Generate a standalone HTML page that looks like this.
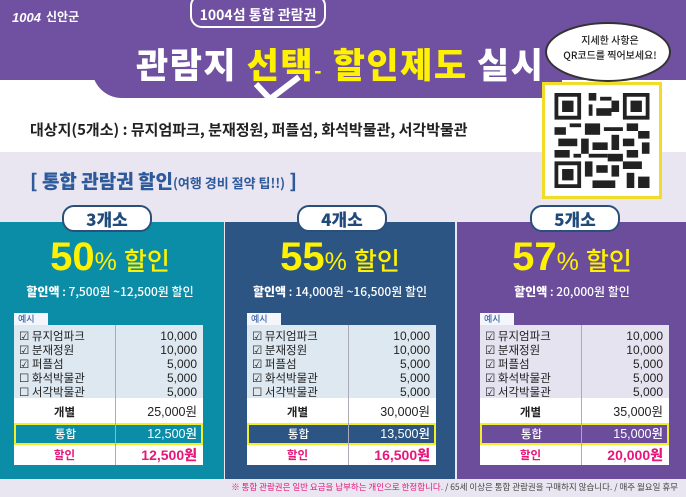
<!DOCTYPE html>
<html><head><meta charset="utf-8">
<style>
*{margin:0;padding:0;box-sizing:border-box}
body{width:686px;height:497px;overflow:hidden;position:relative;background:#fff;font-family:"Liberation Sans","Noto Sans CJK KR",sans-serif}
.a{position:absolute}
.kr{font-family:"Noto Sans CJK KR","Liberation Sans",sans-serif}
.panel{position:absolute;top:222px;height:257px}
.tab{position:absolute;top:205px;width:90px;height:27px;background:#fff;border:2px solid #2a4f7a;border-radius:12px;text-align:center;font:900 17px/23px "Noto Sans CJK KR",sans-serif;color:#1f4a7a}
.big{position:absolute;top:236px;width:230px;text-align:center;color:#fff200;font:900 40px/42px "Liberation Sans","Noto Sans CJK KR",sans-serif}
.big span{font-size:25px;font-weight:500}
.amt{position:absolute;top:284px;width:230px;text-align:center;color:#fff;font:500 12px/16px "Noto Sans CJK KR",sans-serif}
.amt b{font-weight:900}
.ex{position:absolute;top:313px;width:34px;height:12px;background:#f4f6fb;color:#3a64a8;font:500 9px/12px "Noto Sans CJK KR",sans-serif;padding-left:4px}
.tbl{position:absolute;top:325px;width:189px;height:140px;background:#fff}
.items{position:absolute;left:0;top:0;width:189px;height:73px;background:#dde8f0}
.row{position:absolute;left:0;width:189px;font:400 11.5px/14px "Noto Sans CJK KR",sans-serif;color:#222}
.row .l{position:absolute;left:5px}
.row .r{position:absolute;right:6px;font-family:"Liberation Sans",sans-serif;font-size:12px}
.vd{position:absolute;top:0;width:1px;height:140px;background:#aab}
.sum{position:absolute;left:0;width:189px;height:18px;font:700 11.5px/18px "Noto Sans CJK KR",sans-serif}
.sum .l{position:absolute;width:101px;text-align:center}
.sum .r{position:absolute;right:6px;font-family:"Liberation Sans","Noto Sans CJK KR",sans-serif;font-size:12.5px}
.hl{position:absolute;left:0;top:98px;width:189px;height:22px;border:2px solid #f3ee2a;color:#fff;font:500 11.5px/18px "Noto Sans CJK KR",sans-serif}
</style></head><body>
<div class="a" style="left:0;top:0;width:686px;height:80px;background:#7050a0"></div>
<div class="a" style="left:92px;top:60px;width:470px;height:38px;background:#7050a0;border-radius:0 0 0 30px"></div>
<div class="a" style="left:0;top:152px;width:686px;height:345px;background:#e9e6f1"></div>
<div class="a kr" style="left:190px;top:-6px;width:136px;height:34px;border:2px solid #fff;border-radius:12px;background:#7050a0;color:#fff;text-align:center;font:700 14px/38px 'Noto Sans CJK KR',sans-serif">1004섬 통합 관람권</div>
<div class="a" style="left:12px;top:10px;color:#fff;font:italic 900 13px/16px 'Liberation Sans',sans-serif">1004</div>
<div class="a kr" style="left:46px;top:9px;color:#fff;font:700 12px/16px 'Noto Sans CJK KR',sans-serif">신안군</div>
<div class="a kr" style="left:136px;top:42px;white-space:nowrap;color:#fff;font:900 35px/44px 'Noto Sans CJK KR',sans-serif;letter-spacing:1.5px">관람지 <span style="color:#fff200">선택</span><span style="color:#fff200;font-size:20px">-</span> <span style="color:#fff200">할인제도</span> 실시</div>
<svg class="a" style="left:252px;top:74px" width="50" height="30"><path d="M4 10 L18 25 L47 3" stroke="#fff" stroke-width="6" fill="none" stroke-linejoin="round"/></svg>
<div class="a" style="left:545px;top:22px;width:126px;height:60px;background:#fff;border:2px solid #333;border-radius:50%"></div>
<div class="a kr" style="left:556px;top:32px;width:108px;text-align:center;font:500 10px/15px 'Noto Sans CJK KR',sans-serif;color:#222">지세한 사항은<br>QR코드를 찍어보세요!</div>
<div class="a" style="left:542px;top:82px;width:120px;height:117px;background:#fff;border:3px solid #f2dc2a"></div>
<svg class="a" style="left:553px;top:93px" width="98" height="95" viewBox="0 0 25 25">
<g fill="#222">
<path d="M0 0h7v7h-7zM1 1v5h5v-5zM2 2h3v3h-3z" fill-rule="evenodd"/>
<path d="M18 0h7v7h-7zM19 1v5h5v-5zM20 2h3v3h-3z" fill-rule="evenodd"/>
<path d="M0 18h7v7h-7zM1 19v5h5v-5zM2 20h3v3h-3z" fill-rule="evenodd"/>
<rect x="9" y="0" width="2" height="2"/><rect x="12" y="1" width="3" height="1"/><rect x="9" y="3" width="1" height="3"/><rect x="11" y="4" width="4" height="2"/><rect x="15" y="2" width="2" height="3"/>
<rect x="0" y="9" width="3" height="2"/><rect x="4" y="8" width="3" height="1"/><rect x="8" y="8" width="4" height="3"/><rect x="13" y="9" width="5" height="1"/><rect x="19" y="8" width="3" height="2"/><rect x="22" y="10" width="3" height="2"/>
<rect x="1" y="12" width="5" height="2"/><rect x="7" y="12" width="2" height="4"/><rect x="10" y="13" width="4" height="2"/><rect x="15" y="11" width="2" height="4"/><rect x="18" y="12" width="3" height="2"/><rect x="23" y="13" width="2" height="3"/>
<rect x="0" y="15" width="4" height="2"/><rect x="5" y="16" width="2" height="1"/><rect x="9" y="16" width="5" height="1"/><rect x="14" y="16" width="4" height="2"/><rect x="19" y="15" width="3" height="2"/>
<rect x="8" y="18" width="2" height="4"/><rect x="11" y="19" width="3" height="2"/><rect x="15" y="19" width="2" height="3"/><rect x="18" y="18" width="5" height="2"/><rect x="19" y="21" width="2" height="4"/><rect x="22" y="22" width="3" height="3"/><rect x="10" y="23" width="6" height="2"/>
</g></svg>
<div class="a kr" style="left:30px;top:120px;white-space:nowrap;color:#222;font:700 15px/20px 'Noto Sans CJK KR',sans-serif">대상지(5개소) : 뮤지엄파크, 분재정원, 퍼플섬, 화석박물관, 서각박물관</div>
<div class="a kr" style="left:30px;top:168px;white-space:nowrap;color:#2e5a9c;font:900 19px/26px 'Noto Sans CJK KR',sans-serif">[ 통합 관람권 할인<span style="font-size:13px;font-weight:700">(여행 경비 절약 팁!!)</span> ]</div>

<div class="panel" style="left:0;width:224px;background:#0b8da7"></div>
<div class="panel" style="left:225px;width:230px;background:#2d5583"></div>
<div class="panel" style="left:457px;width:229px;background:#6c4d9c"></div>

<div class="tab" style="left:62px">3개소</div>
<div class="tab" style="left:297px">4개소</div>
<div class="tab" style="left:530px">5개소</div>

<div class="big" style="left:-5px">50<span>% 할인</span></div>
<div class="big" style="left:225px">55<span>% 할인</span></div>
<div class="big" style="left:457px">57<span>% 할인</span></div>

<div class="amt" style="left:-5px"><b>할인액</b> : 7,500원 ~12,500원 할인</div>
<div class="amt" style="left:225px"><b>할인액</b> : 14,000원 ~16,500원 할인</div>
<div class="amt" style="left:457px"><b>할인액</b> : 20,000원 할인</div>

<div class="ex" style="left:14px">예시</div>
<div class="ex" style="left:247px">예시</div>
<div class="ex" style="left:480px">예시</div>

<div class="tbl" style="left:14px">
<div class="items"></div>
<div class="row" style="top:4px"><span class="l">☑ 뮤지엄파크</span><span class="r">10,000</span></div>
<div class="row" style="top:18px"><span class="l">☑ 분재정원</span><span class="r">10,000</span></div>
<div class="row" style="top:32px"><span class="l">☑ 퍼플섬</span><span class="r">5,000</span></div>
<div class="row" style="top:46px"><span class="l">☐ 화석박물관</span><span class="r">5,000</span></div>
<div class="row" style="top:60px"><span class="l">☐ 서각박물관</span><span class="r">5,000</span></div>
<div class="sum" style="top:78px;color:#222"><span class="l">개별</span><span class="r" style="font-weight:400">25,000원</span></div>
<div class="hl" style="background:#0b8da7"><span style="position:absolute;width:99px;text-align:center">통합</span><span style="position:absolute;right:4px;font-family:'Liberation Sans','Noto Sans CJK KR',sans-serif;font-size:12.5px">12,500원</span></div>
<div class="sum" style="top:121px;color:#e8157a"><span class="l">할인</span><span class="r" style="font-size:14px;font-weight:900">12,500원</span></div>
<div class="vd" style="left:101px"></div>
</div>
<div class="tbl" style="left:247px">
<div class="items"></div>
<div class="row" style="top:4px"><span class="l">☑ 뮤지엄파크</span><span class="r">10,000</span></div>
<div class="row" style="top:18px"><span class="l">☑ 분재정원</span><span class="r">10,000</span></div>
<div class="row" style="top:32px"><span class="l">☑ 퍼플섬</span><span class="r">5,000</span></div>
<div class="row" style="top:46px"><span class="l">☑ 화석박물관</span><span class="r">5,000</span></div>
<div class="row" style="top:60px"><span class="l">☐ 서각박물관</span><span class="r">5,000</span></div>
<div class="sum" style="top:78px;color:#222"><span class="l">개별</span><span class="r" style="font-weight:400">30,000원</span></div>
<div class="hl" style="background:#2d5583"><span style="position:absolute;width:99px;text-align:center">통합</span><span style="position:absolute;right:4px;font-family:'Liberation Sans','Noto Sans CJK KR',sans-serif;font-size:12.5px">13,500원</span></div>
<div class="sum" style="top:121px;color:#e8157a"><span class="l">할인</span><span class="r" style="font-size:14px;font-weight:900">16,500원</span></div>
<div class="vd" style="left:101px"></div>
</div>
<div class="tbl" style="left:480px">
<div class="items" style="background:#e6e3f0"></div>
<div class="row" style="top:4px"><span class="l">☑ 뮤지엄파크</span><span class="r">10,000</span></div>
<div class="row" style="top:18px"><span class="l">☑ 분재정원</span><span class="r">10,000</span></div>
<div class="row" style="top:32px"><span class="l">☑ 퍼플섬</span><span class="r">5,000</span></div>
<div class="row" style="top:46px"><span class="l">☑ 화석박물관</span><span class="r">5,000</span></div>
<div class="row" style="top:60px"><span class="l">☑ 서각박물관</span><span class="r">5,000</span></div>
<div class="sum" style="top:78px;color:#222"><span class="l">개별</span><span class="r" style="font-weight:400">35,000원</span></div>
<div class="hl" style="background:#6c4d9c"><span style="position:absolute;width:99px;text-align:center">통합</span><span style="position:absolute;right:4px;font-family:'Liberation Sans','Noto Sans CJK KR',sans-serif;font-size:12.5px">15,000원</span></div>
<div class="sum" style="top:121px;color:#e8157a"><span class="l">할인</span><span class="r" style="font-size:14px;font-weight:900">20,000원</span></div>
<div class="vd" style="left:101px"></div>
</div>

<div class="a kr" style="right:8px;top:481px;white-space:nowrap;color:#444;font:400 8.5px/12px 'Noto Sans CJK KR',sans-serif"><span style="color:#e8157a">※ 통합 관람권은 일반 요금을 납부하는 개인으로 한정합니다.</span> / 65세 이상은 통합 관람권을 구매하지 않습니다. / 매주 월요일 휴무</div>
</body></html>
